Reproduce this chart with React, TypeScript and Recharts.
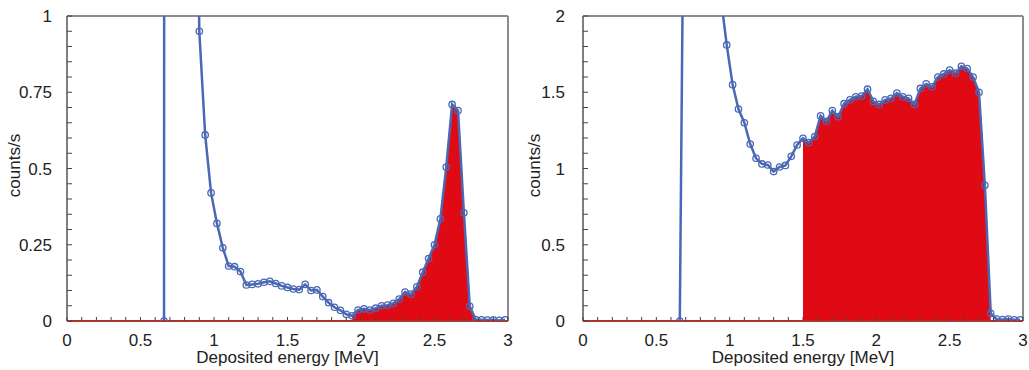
import { ComposedChart, Line, Area, XAxis, YAxis, ReferenceLine, Label } from 'recharts'

// bin centres [MeV]
const energy = [
  0.66, 0.7, 0.74, 0.78, 0.82, 0.86, 0.9, 0.94, 0.98, 1.02, 1.06, 1.1, 1.14, 1.18, 1.22,
  1.26, 1.3, 1.34, 1.38, 1.42, 1.46, 1.5, 1.54, 1.58, 1.62, 1.66, 1.7, 1.74, 1.78, 1.82,
  1.86, 1.9, 1.94, 1.98, 2.02, 2.06, 2.1, 2.14, 2.18, 2.22, 2.26, 2.3, 2.34, 2.38, 2.42,
  2.46, 2.5, 2.54, 2.58, 2.62, 2.66, 2.7, 2.74, 2.78, 2.82, 2.86, 2.9, 2.94, 2.98,
]

// counts/s, left spectrum (peak near 2.6 MeV)
const leftCounts = [
  0, 40, 25, 12, 6, 2.5, 0.95, 0.61, 0.42, 0.32, 0.24, 0.18, 0.178, 0.162, 0.118,
  0.12, 0.122, 0.127, 0.13, 0.123, 0.115, 0.11, 0.105, 0.103, 0.12, 0.1, 0.102, 0.08, 0.06, 0.045,
  0.035, 0.022, 0.017, 0.036, 0.04, 0.036, 0.042, 0.05, 0.052, 0.058, 0.072, 0.095, 0.088, 0.112, 0.16,
  0.205, 0.25, 0.335, 0.505, 0.71, 0.69, 0.355, 0.048, 0.005, 0.004, 0.003, 0.004, 0.002, 0.004,
]

// counts/s, right spectrum (broad plateau)
const rightCounts = [
  0, 4.4, 4.0, 3.6, 3.2, 2.8, 2.45, 2.12, 1.81, 1.55, 1.39, 1.3, 1.16, 1.067, 1.03,
  1.023, 0.98, 1.01, 1.02, 1.08, 1.154, 1.198, 1.17, 1.21, 1.345, 1.31, 1.38, 1.34, 1.425, 1.45,
  1.47, 1.475, 1.52, 1.44, 1.42, 1.45, 1.46, 1.495, 1.47, 1.46, 1.42, 1.525, 1.555, 1.535, 1.6,
  1.62, 1.645, 1.625, 1.67, 1.655, 1.6, 1.5, 0.89, 0.05, 0.012, 0.01, 0.012, 0.008, 0.008,
]

// shaded window [from, to] in MeV
const leftWindow = [1.94, 2.78]
const rightWindow = [1.5, 2.78]

const xTicks = [
  0, 0.1, 0.2, 0.3, 0.4, 0.5, 0.6, 0.7, 0.8, 0.9, 1, 1.1, 1.2, 1.3, 1.4, 1.5,
  1.6, 1.7, 1.8, 1.9, 2, 2.1, 2.2, 2.3, 2.4, 2.5, 2.6, 2.7, 2.8, 2.9, 3,
]
const xLabels = [0, 0.5, 1, 1.5, 2, 2.5, 3]

const leftYTicks = [
  0, 0.05, 0.1, 0.15, 0.2, 0.25, 0.3, 0.35, 0.4, 0.45, 0.5,
  0.55, 0.6, 0.65, 0.7, 0.75, 0.8, 0.85, 0.9, 0.95, 1,
]
const leftYLabels = [0, 0.25, 0.5, 0.75, 1]

const rightYTicks = [
  0, 0.1, 0.2, 0.3, 0.4, 0.5, 0.6, 0.7, 0.8, 0.9, 1,
  1.1, 1.2, 1.3, 1.4, 1.5, 1.6, 1.7, 1.8, 1.9, 2,
]
const rightYLabels = [0, 0.5, 1, 1.5, 2]

const FONT = '"Liberation Sans", Arial, sans-serif'
const BLUE = '#4a68b4'
const RED = '#e00a14'
const TEXT = '#222'

interface SpectrumProps {
  counts: number[]
  window: number[]
  yMax: number
  yTicks: number[]
  yLabels: number[]
  width: number
  axisWidth: number
  marginRight: number
  tickGap: number
}

function Spectrum({ counts, window, yMax, yTicks, yLabels, width, axisWidth, marginRight, tickGap }: SpectrumProps) {
  const data = energy.map((e, i) => ({
    e,
    c: counts[i],
    r: e >= window[0] - 1e-6 && e <= window[1] + 1e-6 ? counts[i] : null,
  }))

  const xTick = (props: any) => {
    const { x, y, payload } = props
    const v = payload.value
    return (
      <g>
        <line x1={x} x2={x} y1={y} y2={y - 4} stroke="#444" strokeWidth={1} />
        {xLabels.includes(v) && (
          <text x={x} y={y + 25} textAnchor="middle" fontSize={17} fontFamily={FONT} fill={TEXT}>
            {String(v)}
          </text>
        )}
      </g>
    )
  }

  const yTick = (props: any) => {
    const { x, y, payload } = props
    const v = payload.value
    return (
      <g>
        <line x1={x} x2={x + 5} y1={y} y2={y} stroke="#444" strokeWidth={1} />
        {yLabels.includes(v) && (
          <text x={x - tickGap} y={y + 6} textAnchor="end" fontSize={17} fontFamily={FONT} fill={TEXT}>
            {String(v)}
          </text>
        )}
      </g>
    )
  }

  return (
    <ComposedChart
      width={width}
      height={370}
      data={data}
      margin={{ top: 16, right: marginRight, bottom: 0, left: 0 }}
    >
      <XAxis
        type="number"
        dataKey="e"
        domain={[0, 3]}
        ticks={xTicks}
        interval={0}
        allowDataOverflow
        height={49}
        tickSize={0}
        tickMargin={0}
        tickLine={false}
        tick={xTick}
        axisLine={{ stroke: '#a8362e', strokeWidth: 2 }}
      >
        <Label
          value="Deposited energy [MeV]"
          position="insideBottom"
          offset={7}
          fontSize={17}
          fontFamily={FONT}
          fill={TEXT}
        />
      </XAxis>
      <YAxis
        type="number"
        domain={[0, yMax]}
        ticks={yTicks}
        interval={0}
        allowDataOverflow
        width={axisWidth}
        tickSize={0}
        tickMargin={0}
        tickLine={false}
        tick={yTick}
        axisLine={{ stroke: '#555', strokeWidth: 1.5 }}
      >
        <Label
          content={(p: any) => {
            const vb = p.viewBox
            const cx = vb.x + 20
            const cy = vb.y + vb.height / 2 - 3
            return (
              <text
                x={cx}
                y={cy}
                transform={`rotate(-90 ${cx} ${cy})`}
                textAnchor="middle"
                fontSize={17}
                fontFamily={FONT}
                fill={TEXT}
              >
                counts/s
              </text>
            )
          }}
        />
      </YAxis>
      <ReferenceLine y={yMax} stroke="#8c8c8c" strokeWidth={2} />
      <ReferenceLine x={3} stroke="#8c8c8c" strokeWidth={2} />
      <Area
        type="linear"
        dataKey="r"
        stroke="none"
        fill={RED}
        fillOpacity={1}
        isAnimationActive={false}
      />
      <Line
        type="linear"
        dataKey="c"
        stroke={BLUE}
        strokeWidth={2.5}
        dot={{ r: 3.2, stroke: BLUE, strokeWidth: 1.3, fill: 'none' }}
        isAnimationActive={false}
      />
    </ComposedChart>
  )
}

export default function App() {
  return (
    <div style={{ position: 'absolute', left: 0, top: 0, width: 1029, height: 370, background: '#fff' }}>
      <div style={{ position: 'absolute', left: 0, top: 0 }}>
        <Spectrum
          counts={leftCounts}
          window={leftWindow}
          yMax={1}
          yTicks={leftYTicks}
          yLabels={leftYLabels}
          width={520}
          axisWidth={67}
          marginRight={12}
          tickGap={15}
        />
      </div>
      <div style={{ position: 'absolute', left: 520, top: 0 }}>
        <Spectrum
          counts={rightCounts}
          window={rightWindow}
          yMax={2}
          yTicks={rightYTicks}
          yLabels={rightYLabels}
          width={509}
          axisWidth={63}
          marginRight={6}
          tickGap={18}
        />
      </div>
    </div>
  )
}
